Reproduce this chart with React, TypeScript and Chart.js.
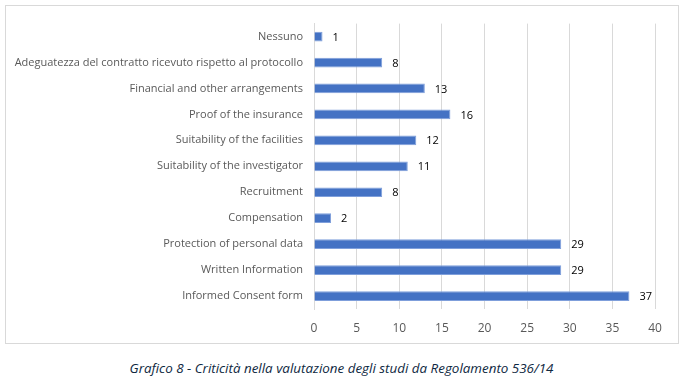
import React, { useEffect, useRef } from "react";
import { Chart, registerables } from "chart.js";

Chart.register(...registerables);

const categories = [
  "Nessuno",
  "Adeguatezza del contratto ricevuto rispetto al protocollo",
  "Financial and other arrangements",
  "Proof of the insurance",
  "Suitability of the facilities",
  "Suitability of the investigator",
  "Recruitment",
  "Compensation",
  "Protection of personal data",
  "Written Information",
  "Informed Consent form",
];
const values = [1, 8, 13, 16, 12, 11, 8, 2, 29, 29, 37];
const caption = "Grafico 8 - Criticità nella valutazione degli studi da Regolamento 536/14";

const FONT = "'Open Sans', 'Noto Sans', sans-serif";

const dataLabels = {
  id: "dataLabels",
  afterDatasetsDraw(chart: any) {
    const ctx = chart.ctx;
    const meta = chart.getDatasetMeta(0);
    ctx.save();
    ctx.font = `11px ${FONT}`;
    ctx.fillStyle = "#000000";
    ctx.textAlign = "left";
    ctx.textBaseline = "middle";
    meta.data.forEach((bar: any, i: number) => {
      ctx.fillText(String(chart.data.datasets[0].data[i]), bar.x + 10, bar.y + 1);
    });
    ctx.restore();
  },
};

export default function App() {
  const ref = useRef<HTMLCanvasElement>(null);
  useEffect(() => {
    document.body.style.margin = "0";
    const chart = new Chart(ref.current!, {
      type: "bar",
      data: {
        labels: categories,
        datasets: [
          {
            data: values,
            backgroundColor: "#4472C4",
            borderColor: "#7f9fdb",
            borderWidth: 1,
            barPercentage: 0.75,
            categoryPercentage: 0.5,
          },
        ],
      },
      plugins: [dataLabels],
      options: {
        indexAxis: "y",
        animation: false,
        responsive: false,
        maintainAspectRatio: false,
        layout: { padding: { left: 0, right: 23, top: 17, bottom: 0 } },
        plugins: { legend: { display: false }, tooltip: { enabled: false } },
        scales: {
          x: {
            min: 0,
            max: 40,
            afterFit(scale: any) {
              scale.height = 34;
            },
            ticks: { stepSize: 5, color: "#595959", font: { family: FONT, size: 12 }, padding: 12 },
            grid: { color: "#d9d9d9", drawTicks: false },
            border: { display: false },
          },
          y: {
            afterFit(scale: any) {
              scale.width = 308;
            },
            ticks: { color: "#595959", font: { family: FONT, size: 11 }, padding: 11 },
            grid: { display: false, drawTicks: false },
            border: { display: true, color: "#d9d9d9" },
          },
        },
      },
    });
    return () => chart.destroy();
  }, []);
  return (
    <div style={{ position: "relative", width: 683, height: 379, background: "#fff" }}>
      <div
        style={{
          position: "absolute",
          left: 5,
          top: 5,
          width: 672,
          height: 337,
          border: "1px solid #d9d9d9",
        }}
      >
        <canvas ref={ref} width={672} height={337} style={{ display: "block" }} />
      </div>
      <div
        style={{
          position: "absolute",
          left: 0,
          width: 683,
          top: 359,
          textAlign: "center",
          fontFamily: FONT,
          fontStyle: "italic",
          fontSize: 13.4,
          color: "#0e2841",
        }}
      >
        {caption}
      </div>
    </div>
  );
}
